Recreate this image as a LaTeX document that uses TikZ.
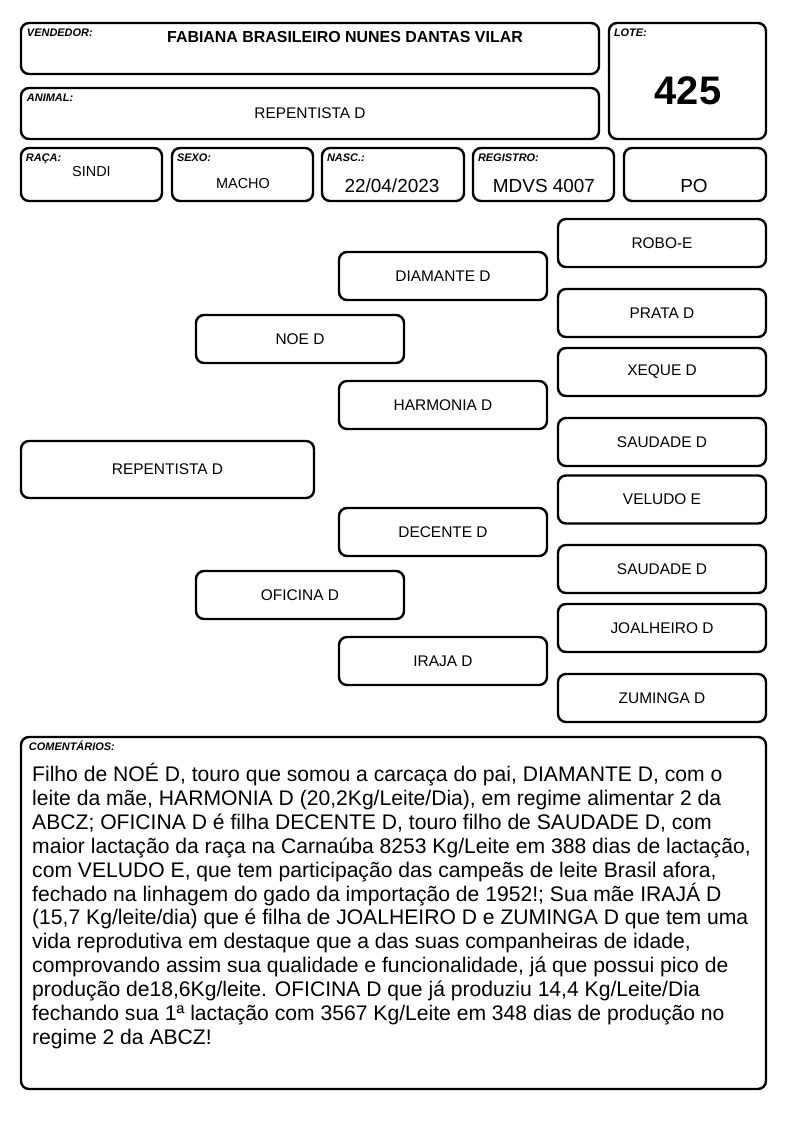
\documentclass[tikz,border=0pt]{standalone}
\usepackage{fontspec}
\setmainfont{Liberation Sans}
\usepackage{tikz}
\usetikzlibrary{positioning}
\newcommand{\cmtfont}{\fontsize{21.2}{24}\selectfont\lineskiplimit=-20pt\relax}
\tikzset{
  cellbox/.style={draw, line width=2.4bp, rounded corners=8bp, inner sep=0pt, align=center},
  pedbox/.style={cellbox, minimum width=208bp, minimum height=48bp, font=\fontsize{15.5}{18}\selectfont},
  tagtext/.style={font=\fontsize{11}{12}\selectfont\bfseries\itshape, inner sep=0pt, anchor=base west},
  valtext/.style={font=\fontsize{19}{22}\selectfont, inner sep=0pt},
  smallval/.style={font=\fontsize{14.5}{17}\selectfont, inner sep=0pt}
}

\begin{document}
\begin{tikzpicture}[x=1bp, y=-1bp]
\useasboundingbox (0,0) rectangle (794,1123);

% Header
\node[cellbox, minimum width=578bp, minimum height=51bp] (vend) at (310,48.5) {};
\node[cellbox, minimum width=578bp, minimum height=51bp] (anim) at (310,113.5) {};
\node[cellbox, minimum width=157bp, minimum height=116bp] (lote) at (687.5,81) {};
\node[tagtext] (vendtag) at ([xshift=7bp, yshift=-15bp]vend.north west) {VENDEDOR:};
\node[tagtext] (animtag) at ([xshift=7bp, yshift=-15bp]anim.north west) {ANIMAL:};
\node[tagtext] (lotetag) at ([xshift=6bp, yshift=-15bp]lote.north west) {LOTE:};
\node[font=\fontsize{16}{18}\selectfont\bfseries, inner sep=0pt] (vendval) at (345,37) {FABIANA BRASILEIRO NUNES DANTAS VILAR};
\node[font=\fontsize{15.5}{18}\selectfont, inner sep=0pt] (animval) at (310,113) {REPENTISTA D};
\node[font=\fontsize{40}{44}\selectfont\bfseries, inner sep=0pt] (loteval) at (688,91) {425};

% Data row
\node[cellbox, minimum width=141bp, minimum height=53bp] (raca) at (91.5,174.5) {};
\node[cellbox, minimum width=141bp, minimum height=53bp] (sexo) at (242.5,174.5) {};
\node[cellbox, minimum width=142bp, minimum height=53bp] (nasc) at (393,174.5) {};
\node[cellbox, minimum width=141bp, minimum height=53bp] (reg)  at (543.5,174.5) {};
\node[cellbox, minimum width=142bp, minimum height=53bp] (cat)  at (695,174.5) {};
\node[tagtext] (racatag) at ([xshift=6bp, yshift=-15bp]raca.north west) {RAÇA:};
\node[tagtext] (sexotag) at ([xshift=6bp, yshift=-15bp]sexo.north west) {SEXO:};
\node[tagtext] (nasctag) at ([xshift=6bp, yshift=-15bp]nasc.north west) {NASC.:};
\node[tagtext] (regtag)  at ([xshift=6bp, yshift=-15bp]reg.north west) {REGISTRO:};
\node[smallval] (racaval) at (91.5,172) {SINDI};
\node[smallval] (sexoval) at (243,184) {MACHO};
\node[valtext] (nascval) at (392,186) {22/04/2023};
\node[valtext] (regval)  at (544,186) {MDVS 4007};
\node[valtext] (catval)  at (694,186) {PO};

% Pedigree
\node[cellbox, minimum width=293bp, minimum height=57bp, font=\fontsize{15.5}{18}\selectfont] (animal) at (167.5,469.5) {REPENTISTA D};

\node[pedbox] (pai) at (300,339) {NOE D};
\node[pedbox] (mae) at (300,595) {OFICINA D};

\node[pedbox] (avop)  at (443,276) {DIAMANTE D};
\node[pedbox] (avap)  at (443,405) {HARMONIA D};
\node[pedbox] (avom)  at (443,532) {DECENTE D};
\node[pedbox] (avam)  at (443,661) {IRAJA D};

\node[pedbox] (bis1) at (662,243)   {ROBO-E};
\node[pedbox] (bis2) at (662,313)   {PRATA D};
\node[pedbox] (bis3) at (662,372)   {XEQUE D};
\node[pedbox] (bis4) at (662,442)   {SAUDADE D};
\node[pedbox] (bis5) at (662,499.5) {VELUDO E};
\node[pedbox] (bis6) at (662,569)   {SAUDADE D};
\node[pedbox] (bis7) at (662,628)   {JOALHEIRO D};
\node[pedbox] (bis8) at (662,698)   {ZUMINGA D};

% Comments
\node[cellbox, minimum width=745bp, minimum height=352bp] (coment) at (393.5,913) {};
\node[tagtext] (comtag) at ([xshift=9bp, yshift=-15bp]coment.north west) {COMENTÁRIOS:};
\node[font=\cmtfont, align=left, inner sep=0pt, anchor=north west] (comtxt) at (32,763) {%
Filho de NOÉ D, touro que somou a carcaça do pai, DIAMANTE D, com o\\
leite da mãe, HARMONIA D (20,2Kg/Leite/Dia), em regime alimentar 2 da\\
ABCZ; OFICINA D é filha DECENTE D, touro filho de SAUDADE D, com\\
maior lactação da raça na Carnaúba 8253 Kg/Leite em 388 dias de lactação,\\
com VELUDO E, que tem participação das campeãs de leite Brasil afora,\\
fechado na linhagem do gado da importação de 1952!; Sua mãe IRAJÁ D\\
(15,7 Kg/leite/dia) que é filha de JOALHEIRO D e ZUMINGA D que tem uma\\
vida reprodutiva em destaque que a das suas companheiras de idade,\\
comprovando assim sua qualidade e funcionalidade, já que possui pico de\\
produção de18,6Kg/leite. OFICINA D que já produziu 14,4 Kg/Leite/Dia\\
fechando sua 1ª lactação com 3567 Kg/Leite em 348 dias de produção no\\
regime 2 da ABCZ!};
\end{tikzpicture}
\end{document}
